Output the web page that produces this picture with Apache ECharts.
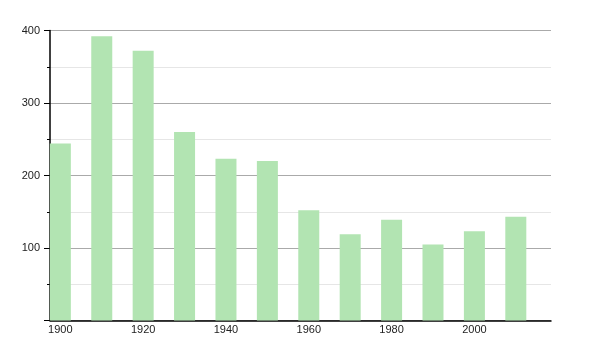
<!DOCTYPE html>
<html>
<head>
<meta charset="utf-8">
<script src="https://cdn.jsdelivr.net/npm/echarts@6/dist/echarts.min.js"></script>
<style>
html,body{margin:0;padding:0;background:#fff;}
#c{width:600px;height:350px;}
</style>
</head>
<body>
<div id="c"></div>
<script>
const years = [1900, 1910, 1920, 1930, 1940, 1950, 1960, 1970, 1980, 1990, 2000, 2010];
const population = [244, 392, 372, 260, 223, 220, 152, 119, 139, 105, 123, 143];
const xTickLabels = [1900, 1920, 1940, 1960, 1980, 2000];
const yTickLabels = [100, 200, 300, 400];

const chart = echarts.init(document.getElementById('c'), null, {renderer: 'canvas'});
chart.setOption({
  animation: false,
  grid: {left: 50, right: 49, top: 30.5, bottom: 29.5, containLabel: false},
  xAxis: {
    type: 'value',
    min: 1897.5,
    max: 2018.5,
    axisLine: {show: true, lineStyle: {color: '#000', width: 1.5}},
    axisTick: {show: false},
    splitLine: {show: false},
    axisLabel: {
      customValues: xTickLabels,
      color: '#222',
      fontFamily: 'Liberation Sans',
      fontSize: 11,
      margin: 4,
      formatter: function (v) { return String(v); }
    }
  },
  yAxis: {
    type: 'value',
    min: 0,
    max: 400,
    interval: 100,
    axisLine: {show: true, lineStyle: {color: '#000', width: 1.5}},
    axisTick: {show: true, length: 6, lineStyle: {color: '#000'}},
    minorTick: {show: true, splitNumber: 2, length: 3, lineStyle: {color: '#000'}},
    splitLine: {show: true, lineStyle: {color: '#aaaaaa', width: 1}},
    minorSplitLine: {show: true, lineStyle: {color: '#e6e6e6', width: 1}},
    axisLabel: {
      color: '#222',
      fontFamily: 'Liberation Sans',
      fontSize: 11,
      margin: 10,
      formatter: function (v) { return yTickLabels.indexOf(v) >= 0 ? String(v) : ''; }
    }
  },
  series: [{
    type: 'bar',
    barWidth: 21,
    itemStyle: {color: '#b2e4b2'},
    data: years.map((y, i) => [y, population[i]])
  }]
});
</script>
</body>
</html>
